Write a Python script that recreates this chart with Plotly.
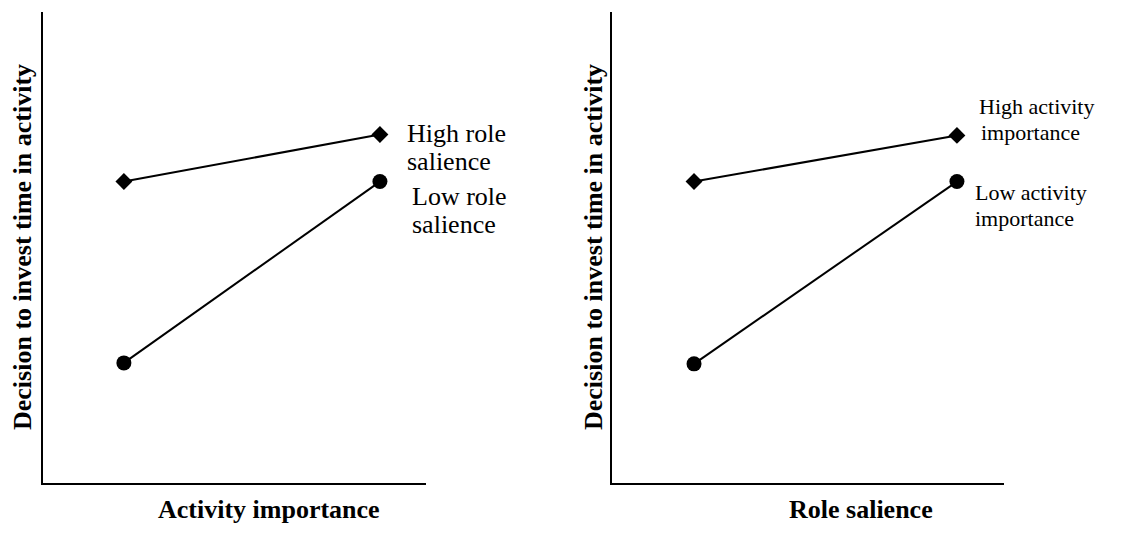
import plotly.graph_objects as go

# Page body has an 8px margin; the figure is sized to fit inside it.
OFF = 8
W, H = 1145 - 2 * OFF, 538 - 2 * OFF

levels = [1, 2]
left_high = [6.4, 7.4]
left_low = [2.55, 6.4]
right_high = [6.4, 7.38]
right_low = [2.53, 6.4]

left_xtitle = "Activity importance"
right_xtitle = "Role salience"
ytitle = "Decision to invest time in activity"
left_labels = [["High role", "salience"], ["Low role", "salience"]]
right_labels = [["High activity", "importance"], ["Low activity", "importance"]]

FONT = "Liberation Serif, Times New Roman, serif"


def px(x):
    return (x - OFF) / W


def py(y):
    return 1 - (y - OFF) / H


fig = go.Figure()


def add_pair(high, low, xa, ya):
    fig.add_trace(go.Scatter(x=levels, y=high, mode="lines+markers", xaxis=xa, yaxis=ya,
                             line=dict(color="black", width=2),
                             marker=dict(symbol="diamond", size=13, color="black"),
                             showlegend=False, hoverinfo="skip"))
    fig.add_trace(go.Scatter(x=levels, y=low, mode="lines+markers", xaxis=xa, yaxis=ya,
                             line=dict(color="black", width=2),
                             marker=dict(symbol="circle", size=15, color="black"),
                             showlegend=False, hoverinfo="skip"))


add_pair(left_high, left_low, "x", "y")
add_pair(right_high, right_low, "x2", "y2")

ydom = [py(483), py(12)]
axis_common = dict(showline=True, linecolor="black", linewidth=2, showgrid=False,
                   zeroline=False, showticklabels=False, ticks="", fixedrange=True)

fig.update_layout(
    width=W, height=H,
    margin=dict(l=0, r=0, t=0, b=0),
    paper_bgcolor="white", plot_bgcolor="white",
    font=dict(family=FONT, color="black"),
    xaxis=dict(domain=[px(43), px(426)], range=[0.684, 2.18], anchor="y", **axis_common),
    yaxis=dict(domain=ydom, range=[0, 10], anchor="x", **axis_common),
    xaxis2=dict(domain=[px(612), px(1004)], range=[0.688, 2.179], anchor="y2", **axis_common),
    yaxis2=dict(domain=ydom, range=[0, 10], anchor="x2", **axis_common),
)

ann = []


def text(t, x, y, size, bold=False, anchor="left", angle=0):
    ann.append(dict(text=("<b>%s</b>" % t) if bold else t, xref="paper", yref="paper",
                    x=px(x), y=py(y), showarrow=False, textangle=angle,
                    xanchor=anchor, yanchor="middle", align="left",
                    font=dict(size=size, family=FONT, color="black")))


# x-axis titles
text(left_xtitle, 269, 509, 26, bold=True, anchor="center")
text(right_xtitle, 861, 509, 26, bold=True, anchor="center")
# y-axis titles
text(ytitle, 22, 247, 26, bold=True, anchor="center", angle=-90)
text(ytitle, 593, 247, 26, bold=True, anchor="center", angle=-90)

# series labels (left panel)
text(left_labels[0][0], 405, 133, 26)
text(left_labels[0][1], 405, 161, 26)
text(left_labels[1][0], 410, 197, 26)
text(left_labels[1][1], 410, 225, 26)
# series labels (right panel)
text(right_labels[0][0], 977, 106, 22)
text(right_labels[0][1], 979, 132, 22)
text(right_labels[1][0], 973, 192, 22)
text(right_labels[1][1], 973, 218, 22)

fig.update_layout(annotations=ann)

fig.write_html("out.html")
